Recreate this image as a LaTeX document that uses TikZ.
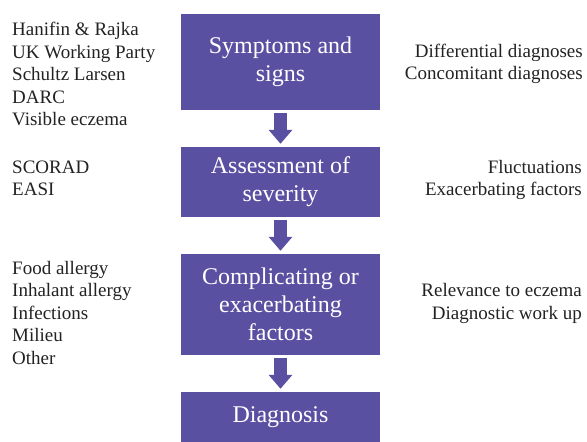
\documentclass[tikz,border=0pt]{standalone}
\usepackage{fontspec}
\setmainfont{Liberation Serif}
\usetikzlibrary{arrows.meta}
\definecolor{boxfill}{HTML}{5A50A2}
\definecolor{txt}{HTML}{222222}
\tikzset{
  stepbox/.style={fill=boxfill, draw=none, text=white, minimum width=199pt, inner sep=0pt,
    align=center, font=\fontsize{24}{28}\selectfont},
  flowarrow/.style={draw=boxfill, line width=13pt, -{Triangle[width=23pt,length=14pt]},
    shorten <=3pt, shorten >=3pt},
  lefttext/.style={anchor=west, align=left, text=txt, inner sep=0pt, font=\fontsize{19}{22.5}\selectfont},
  righttext/.style={anchor=east, align=right, text=txt, inner sep=0pt, font=\fontsize{19}{22.5}\selectfont}
}
\begin{document}
\begin{tikzpicture}[x=1pt,y=-1pt]
\useasboundingbox (0,0) rectangle (587,442);
\node[stepbox, minimum height=96pt] (b1) at (280.5,62) {Symptoms and\\signs};
\node[stepbox, minimum height=70pt] (b2) at (280.5,182) {Assessment of\\severity};
\node[stepbox, minimum height=101pt] (b3) at (280.5,304.5) {Complicating or\\exacerbating\\factors};
\node[stepbox, minimum height=50pt] (b4) at (280.5,417) {Diagnosis};
\draw[flowarrow] (b1.south) -- (b2.north);
\draw[flowarrow] (b2.south) -- (b3.north);
\draw[flowarrow] (b3.south) -- (b4.north);
\node[lefttext] (l1) at (12,74) {Hanifin \& Rajka\\UK Working Party\\Schultz Larsen\\DARC\\Visible eczema};
\node[lefttext] (l2) at (12,178.5) {SCORAD\\EASI};
\node[lefttext] (l3) at (12,312.5) {Food allergy\\Inhalant allergy\\Infections\\Milieu\\Other};
\node[righttext] (r1) at (583,64) {Differential diagnoses\\Concomitant diagnoses};
\node[righttext] (r2) at (582,180) {Fluctuations\\Exacerbating factors};
\node[righttext] (r3) at (582,303.5) {Relevance to eczema\\Diagnostic work up};
\end{tikzpicture}
\end{document}
